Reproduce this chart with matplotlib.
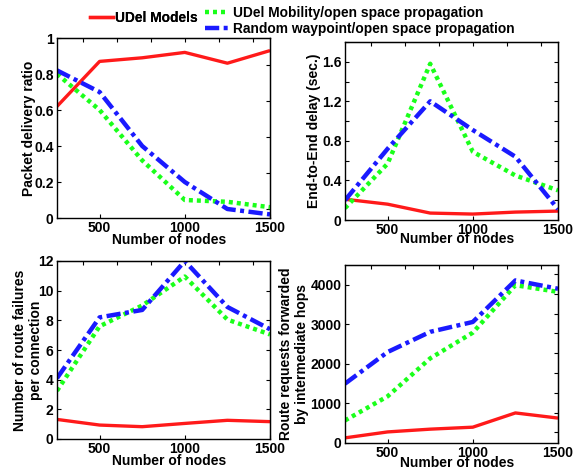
import numpy as np
import matplotlib
matplotlib.use("Agg")
import matplotlib.pyplot as plt
from matplotlib.lines import Line2D

plt.rcParams['font.family'] = ['Liberation Sans', 'DejaVu Sans']
plt.rcParams['font.weight'] = 'bold'
plt.rcParams['axes.labelweight'] = 'bold'

nodes = [250, 500, 750, 1000, 1250, 1500]

# packet delivery ratio
pdr_udel = [0.62, 0.87, 0.89, 0.92, 0.86, 0.93]
pdr_udel_open = [0.80, 0.60, 0.32, 0.10, 0.09, 0.06]
pdr_rwp_open = [0.82, 0.70, 0.40, 0.20, 0.05, 0.02]

# end-to-end delay (sec.)
delay_udel = [0.21, 0.16, 0.07, 0.06, 0.08, 0.09]
delay_udel_open = [0.12, 0.57, 1.58, 0.69, 0.45, 0.30]
delay_rwp_open = [0.20, 0.72, 1.20, 0.91, 0.64, 0.11]

# route failures per connection
fail_udel = [1.32, 0.94, 0.83, 1.05, 1.26, 1.17]
fail_udel_open = [3.25, 7.6, 9.0, 10.95, 8.05, 7.05]
fail_rwp_open = [4.1, 8.2, 8.7, 12.0, 8.9, 7.4]

# route requests forwarded by intermediate hops
rreq_udel = [130, 280, 350, 400, 760, 630]
rreq_udel_open = [570, 1180, 2140, 2790, 3990, 3820]
rreq_rwp_open = [1500, 2300, 2810, 3060, 4110, 3900]

legend_labels = ['UDel Models',
                 'UDel Mobility/open space propagation',
                 'Random waypoint/open space propagation']

RED = '#ff1a1a'
GREEN = '#1aff1a'
BLUE = '#1a1aff'

fig = plt.figure(figsize=(5.74, 4.72), dpi=100)

W, H = 574.0, 472.0


def make_axes(x0, x1, y_top, y_bot):
    return fig.add_axes([x0 / W, 1 - y_bot / H, (x1 - x0) / W, (y_bot - y_top) / H])


def draw(ax, a, b, c, xlab_below, ylab_x):
    ax.plot(nodes, a, color=RED, lw=2.4, solid_capstyle='butt')
    ax.plot(nodes, b, color=GREEN, lw=3.2, linestyle=(0, (0.9, 0.9)),
            dash_capstyle='butt')
    ax.plot(nodes, c, color=BLUE, lw=3.2, linestyle=(0, (3.2, 1.0, 0.9, 1.0)),
            dash_capstyle='butt')
    ax.set_xlim(250, 1500)
    ax.set_xticks([500, 1000, 1500])
    ax.tick_params(direction='in', length=3, width=0.8, labelsize=10, pad=2.5)
    for s in ax.spines.values():
        s.set_linewidth(1.0)
    top = ax.secondary_xaxis('top')
    top.set_xticks([400, 600, 800, 1000, 1200, 1400])
    top.tick_params(direction='in', length=3, width=0.8, labeltop=False)

    # label placement in pixels, converted to axes fractions
    bb = ax.get_position()
    w_px = bb.width * W
    h_px = bb.height * H
    ax.set_xlabel('Number of nodes', fontsize=10)
    ax.xaxis.label.set_va('center')
    ax.xaxis.set_label_coords(0.5 + 6 / w_px, -xlab_below / h_px)
    x0_px = bb.x0 * W
    ax.yaxis.label.set_va('center')
    ax.yaxis.set_label_coords((ylab_x - x0_px) / w_px, 0.5)


# top-left
ax1 = make_axes(57, 270, 38, 218)
ax1.set_ylabel('Packet delivery ratio', fontsize=10)
draw(ax1, pdr_udel, pdr_udel_open, pdr_rwp_open, 22, 29)
ax1.set_ylim(0, 1)
ax1.set_yticks([0, 0.2, 0.4, 0.6, 0.8, 1])
ax1.set_yticklabels(['0', '0.2', '0.4', '0.6', '0.8', '1'])
r1 = ax1.secondary_yaxis('right')
r1.set_yticks([0.05, 0.25, 0.45, 0.65, 0.85])
r1.tick_params(direction='in', length=3, width=0.8, labelright=False)

# top-right
ax2 = make_axes(345, 558, 42, 220)
ax2.set_ylabel('End-to-End delay (sec.)', fontsize=10)
draw(ax2, delay_udel, delay_udel_open, delay_rwp_open, 19, 314)
ax2.set_ylim(0, 1.8)
ax2.set_yticks(np.arange(0, 1.81, 0.2))
ax2.set_yticklabels(['0', '', '0.4', '', '0.8', '', '1.2', '', '1.6', ''])
r2 = ax2.secondary_yaxis('right')
r2.set_yticks(np.arange(0.2, 1.7, 0.2))
r2.tick_params(direction='in', length=3, width=0.8, labelright=False)

# bottom-left
ax3 = make_axes(57, 270, 261, 439)
ax3.set_ylabel('Number of route failures\nper connection', fontsize=10,
               linespacing=1.25)
draw(ax3, fail_udel, fail_udel_open, fail_rwp_open, 22, 28)
ax3.set_ylim(0, 12)
ax3.set_yticks(range(0, 13, 2))
r3 = ax3.secondary_yaxis('right')
r3.set_yticks(range(2, 12, 2))
r3.tick_params(direction='in', length=3, width=0.8, labelright=False)

# bottom-right
ax4 = make_axes(345, 558, 265, 443)
ax4.set_ylabel('Route requests forwarded\nby intermediate hops', fontsize=10,
               linespacing=1.25)
draw(ax4, rreq_udel, rreq_udel_open, rreq_rwp_open, 20, 294)
ax4.set_ylim(0, 4500)
ax4.set_yticks(range(0, 4001, 1000))
r4 = ax4.secondary_yaxis('right')
r4.set_yticks(range(270, 4300, 500))
r4.tick_params(direction='in', length=3, width=0.8, labelright=False)

h_red = Line2D([], [], color=RED, lw=2.4)
h_green = Line2D([], [], color=GREEN, lw=3.2, linestyle=(0, (0.9, 0.9)))
h_blue = Line2D([], [], color=BLUE, lw=3.2, linestyle=(0, (3.2, 1.0, 0.9, 1.0)))

leg1 = fig.legend([h_red], [legend_labels[0]], loc='center left',
                  bbox_to_anchor=(90 / W, 1 - 18 / H), frameon=False,
                  fontsize=9.9, handlelength=1.7, handletextpad=0.1,
                  borderpad=0, borderaxespad=0)
leg2 = fig.legend([h_green, h_blue], legend_labels[1:], loc='center left',
                  bbox_to_anchor=(205 / W, 1 - 21 / H), frameon=False,
                  fontsize=9.9, handlelength=1.7, handletextpad=0.35,
                  labelspacing=0.12, borderpad=0, borderaxespad=0)
fig.add_artist(leg1)

fig.savefig('out.png', dpi=100)
